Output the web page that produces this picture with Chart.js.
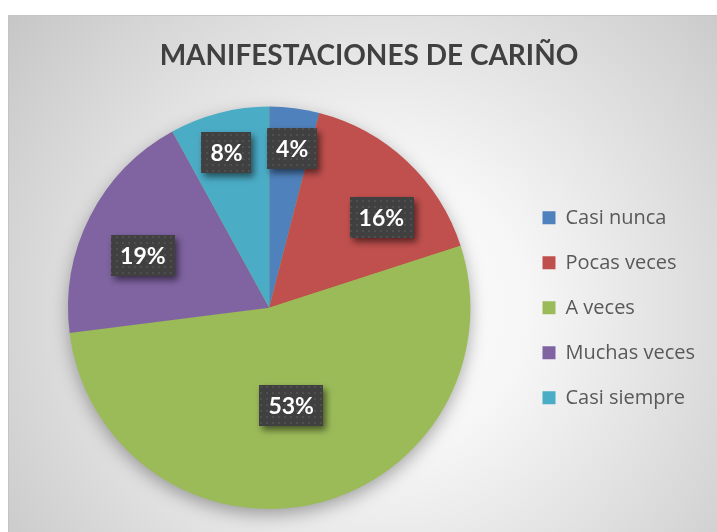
<!DOCTYPE html>
<html>
<head>
<meta charset="utf-8">
<script src="https://cdn.jsdelivr.net/npm/chart.js@4.4.1/dist/chart.umd.min.js"></script>
<style>
    html, body { margin: 0; padding: 0; background: #fff; overflow: hidden; }
    #wrap { width: 717px; height: 532px; position: relative; }
</style>
</head>
<body>
<div id="wrap"><canvas id="pieChart" width="717" height="532"></canvas></div>
<script>
// Data
const categories = ['Casi nunca', 'Pocas veces', 'A veces', 'Muchas veces', 'Casi siempre'];
const percentages = [4, 16, 53, 19, 8];
const sliceColors = ['#4F81BD', '#C0504D', '#9BBB59', '#8064A2', '#4BACC6'];
const chartTitle = 'MANIFESTACIONES DE CARIÑO';

// label placement (fraction of radius, angle tweak in degrees) - Excel "best fit" look
const labelPlacement = [
    { r: 0.80, a: 1 },
    { r: 0.715, a: 8 },
    { r: 0.50, a: 0 },
    { r: 0.68, a: -4.5 },
    { r: 0.80, a: -1 }
];

const FONT = "Lato, 'Open Sans', sans-serif";
const LEGEND_FONT = "'Open Sans', Lato, sans-serif";

// Dotted dark fill for the label boxes
function makeDotPattern(ctx) {
    const p = document.createElement('canvas');
    p.width = 6;
    p.height = 6;
    const pc = p.getContext('2d');
    pc.fillStyle = '#404040';
    pc.fillRect(0, 0, 6, 6);
    pc.fillStyle = '#4f4f4f';
    pc.fillRect(2, 2, 2, 2);
    return ctx.createPattern(p, 'repeat');
}

// Background: white margin, gray radial gradient panel, thin border
const panelBackground = {
    id: 'panelBackground',
    afterLayout(chart) {
        // centre the title over the framed panel rather than the padded box
        const t = chart.titleBlock;
        if (t) { t.left += 6; t.right += 6; }
    },
    beforeDraw(chart) {
        const ctx = chart.ctx;
        const w = chart.width, h = chart.height;
        ctx.save();
        ctx.fillStyle = '#ffffff';
        ctx.fillRect(0, 0, w, h);
        const g = ctx.createRadialGradient(385, 310, 0, 385, 310, 480);
        g.addColorStop(0, '#ffffff');
        g.addColorStop(0.3, '#f6f6f6');
        g.addColorStop(1, '#c6c6c6');
        ctx.fillStyle = g;
        ctx.fillRect(8, 15, w - 8, h - 15);
        ctx.strokeStyle = '#c4c4c4';
        ctx.lineWidth = 1;
        ctx.beginPath();
        ctx.moveTo(8.5, h);
        ctx.lineTo(8.5, 15.5);
        ctx.lineTo(w, 15.5);
        ctx.stroke();
        ctx.restore();
    }
};

// Soft shadow under the whole pie
const pieShadow = {
    id: 'pieShadow',
    beforeDatasetsDraw(chart) {
        const arc = chart.getDatasetMeta(0).data[0];
        if (!arc) return;
        const ctx = chart.ctx;
        ctx.save();
        ctx.shadowColor = 'rgba(0,0,0,0.35)';
        ctx.shadowBlur = 18;
        ctx.shadowOffsetY = 6;
        ctx.fillStyle = sliceColors[2];
        ctx.beginPath();
        ctx.arc(arc.x, arc.y, arc.outerRadius - 1, 0, Math.PI * 2);
        ctx.fill();
        ctx.restore();
    }
};

// Percentage labels in dark boxes
const sliceLabels = {
    id: 'sliceLabels',
    afterDatasetsDraw(chart) {
        const ctx = chart.ctx;
        const meta = chart.getDatasetMeta(0);
        const pattern = makeDotPattern(ctx);
        meta.data.forEach((arc, i) => {
            const place = labelPlacement[i];
            const mid = (arc.startAngle + arc.endAngle) / 2 + place.a * Math.PI / 180;
            const cx = arc.x + Math.cos(mid) * arc.outerRadius * place.r;
            const cy = arc.y + Math.sin(mid) * arc.outerRadius * place.r;
            const text = percentages[i] + '%';
            ctx.save();
            ctx.font = 'bold 23px ' + FONT;
            const tw = ctx.measureText(text).width;
            const bw = tw + 18, bh = 41;
            ctx.shadowColor = 'rgba(0,0,0,0.55)';
            ctx.shadowBlur = 7;
            ctx.shadowOffsetX = 3;
            ctx.shadowOffsetY = 4;
            ctx.fillStyle = pattern;
            ctx.fillRect(Math.round(cx - bw / 2), Math.round(cy - bh / 2), Math.round(bw), bh);
            ctx.restore();
            ctx.save();
            ctx.font = 'bold 23px ' + FONT;
            ctx.fillStyle = '#ffffff';
            ctx.textAlign = 'center';
            ctx.textBaseline = 'middle';
            ctx.fillText(text, cx, cy + 1);
            ctx.restore();
        });
    }
};

function drawPie() {
    const canvas = document.getElementById('pieChart');
    const ctx = canvas.getContext('2d');
    new Chart(ctx, {
        type: 'pie',
        data: {
            labels: categories,
            datasets: [{
                data: percentages,
                backgroundColor: sliceColors,
                borderWidth: 0
            }]
        },
        options: {
            responsive: false,
            animation: false,
            layout: { padding: { left: 21, right: 12, top: 15, bottom: 23 } },
            plugins: {
                title: {
                    display: true,
                    text: chartTitle,
                    color: '#404040',
                    font: { family: FONT, size: 28, weight: 'bold' },
                    padding: { top: 24, bottom: 34 }
                },
                legend: {
                    position: 'right',
                    fullSize: false,
                    labels: {
                        boxWidth: 13,
                        boxHeight: 13,
                        padding: 25,
                        color: '#595959',
                        font: { family: LEGEND_FONT, size: 20 }
                    }
                },
                tooltip: { enabled: false }
            }
        },
        plugins: [panelBackground, pieShadow, sliceLabels]
    });
}

window.onload = function() {
    drawPie();
};
</script>
</body>
</html>
